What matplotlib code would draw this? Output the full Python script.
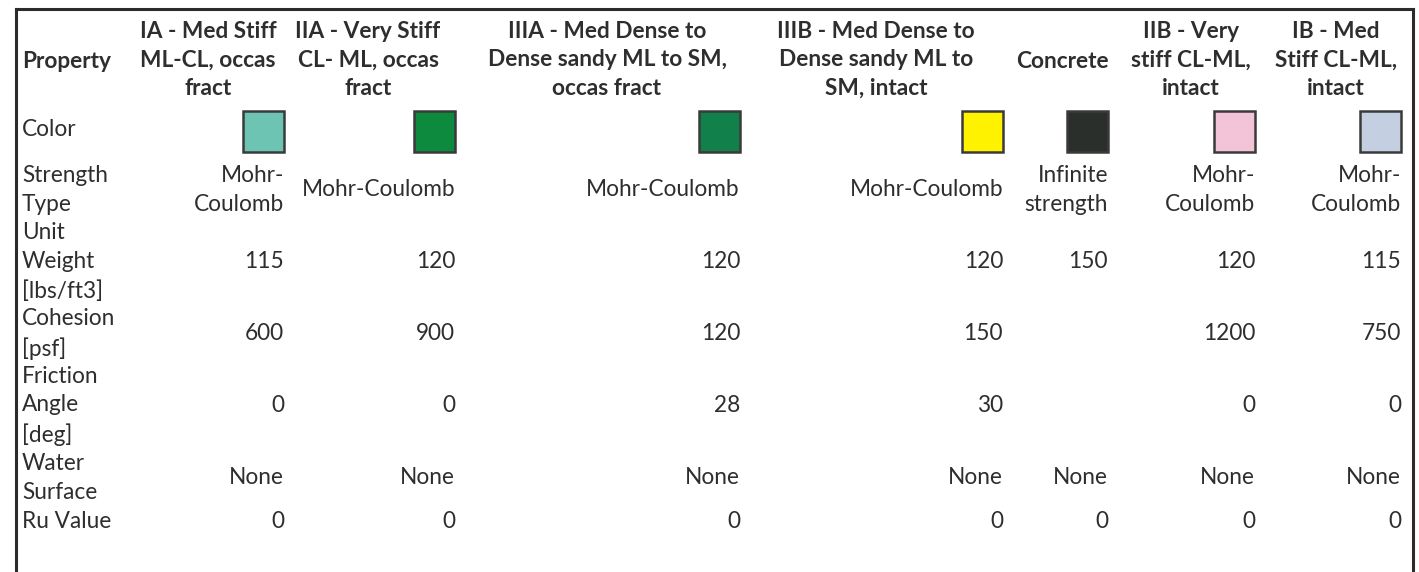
import matplotlib.pyplot as plt
from matplotlib.patches import Rectangle

# ---- table data ----
materials = [
    "IA - Med Stiff\nML-CL, occas\nfract",
    "IIA - Very Stiff\nCL- ML, occas\nfract",
    "IIIA - Med Dense to\nDense sandy ML to SM,\noccas fract",
    "IIIB - Med Dense to\nDense sandy ML to\nSM, intact",
    "Concrete",
    "IIB - Very\nstiff CL-ML,\nintact",
    "IB - Med\nStiff CL-ML,\nintact",
]
colors = ["#6dc4b2", "#0e8a3e", "#12804a", "#fff200", "#2a2f2c", "#f3c4d8", "#c4cfe2"]
strength_type = ["Mohr-\nCoulomb", "Mohr-Coulomb", "Mohr-Coulomb", "Mohr-Coulomb",
                 "Infinite\nstrength", "Mohr-\nCoulomb", "Mohr-\nCoulomb"]
unit_weight = [115, 120, 120, 120, 150, 120, 115]
cohesion = [600, 900, 120, 150, None, 1200, 750]
friction_angle = [0, 0, 28, 30, None, 0, 0]
water_surface = ["None"] * 7
ru_value = [0] * 7

row_labels = ["Color", "Strength\nType", "Unit\nWeight\n[lbs/ft3]", "Cohesion\n[psf]",
              "Friction\nAngle\n[deg]", "Water\nSurface", "Ru Value"]

# ---- layout (pixels) ----
col_right = [284, 455, 740, 1003, 1108, 1255, 1401]
col_center = [208, 368, 607, 876, 1062, 1191, 1336]
row_y = [130, 190, 262, 334, 406, 478, 522]
header_y = 60

FONT = "Lato"
FS = 16.3
LS = 1.45
TXT = "#2e2e2e"

fig = plt.figure(figsize=(14.19, 5.72), dpi=100)
ax = fig.add_axes([0, 0, 1, 1])
ax.set_xlim(0, 1419)
ax.set_ylim(572, 0)
ax.axis("off")

# border (top, left, right)
ax.plot([16, 1413], [9, 9], color="#2b2b2b", lw=2.2)
ax.plot([16, 16], [9, 572], color="#2b2b2b", lw=2.2)
ax.plot([1413, 1413], [9, 572], color="#2b2b2b", lw=2.2)

# header
ax.text(22, header_y + 2, "Property", ha="left", va="center", fontsize=FS,
        fontweight="bold", family=FONT, color=TXT)
for name, cx in zip(materials, col_center):
    ax.text(cx, header_y + (2 if "\n" not in name else 0), name, ha="center",
            va="center", fontsize=FS, fontweight="bold", family=FONT, color=TXT,
            linespacing=LS, multialignment="center")

# row labels
for lab, y in zip(row_labels, row_y):
    ax.text(22, y, lab, ha="left", va="center", fontsize=FS, family=FONT,
            color=TXT, linespacing=LS)

# color swatches
for c, xr in zip(colors, col_right):
    ax.add_patch(Rectangle((xr - 41, row_y[0] - 19), 41, 41, facecolor=c,
                           edgecolor="#3a3a3a", lw=1.8))

# value rows
value_rows = [strength_type, unit_weight, cohesion, friction_angle, water_surface, ru_value]
for vals, y in zip(value_rows, row_y[1:]):
    for v, xr in zip(vals, col_right):
        if v is None:
            continue
        ax.text(xr, y, str(v), ha="right", va="center", fontsize=FS, family=FONT,
                color=TXT, linespacing=LS, multialignment="right")

fig.savefig("out.png", dpi=100)
